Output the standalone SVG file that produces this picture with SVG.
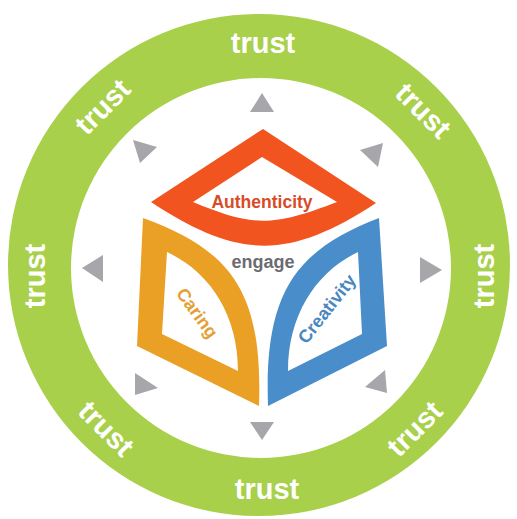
<svg xmlns="http://www.w3.org/2000/svg" width="517" height="519" viewBox="0 0 517 519">
<style>
.tri{fill:#a6a6ab}
.trust{font-family:"Liberation Sans",Arial,sans-serif;font-weight:bold;font-size:29px;fill:#fff;text-anchor:middle}
.lbl{font-family:"Liberation Sans",Arial,sans-serif;font-weight:bold;text-anchor:middle}
</style>
<rect width="517" height="519" fill="#fff"/>
<g id="ring">
<circle cx="259" cy="265" r="251" fill="#a8d04b"/>
<circle cx="261" cy="268" r="190" fill="#fff"/>
</g>
<g id="trust-labels">
<text class="trust" transform="translate(263,45)" y="8">trust</text>
<text class="trust" transform="translate(422,112) rotate(45)" y="8">trust</text>
<text class="trust" transform="translate(486,276) rotate(-90)" y="8">trust</text>
<text class="trust" transform="translate(416,430) rotate(-45)" y="8">trust</text>
<text class="trust" transform="translate(267,491)" y="8">trust</text>
<text class="trust" transform="translate(105,430) rotate(45)" y="8">trust</text>
<text class="trust" transform="translate(37,276) rotate(-90)" y="8">trust</text>
<text class="trust" transform="translate(104,108) rotate(-45)" y="8">trust</text>
</g>
<g id="connectors">
<polygon class="tri" points="262,93 250,112 274,112"/>
<polygon class="tri" points="262,440 250,422 274,422"/>
<polygon class="tri" points="82,268 103,255 103,282"/>
<polygon class="tri" points="442,270 420,257 420,283"/>
<polygon class="tri" points="133,140 157,147 140,163"/>
<polygon class="tri" points="383,143 360,150 378,167"/>
<polygon class="tri" points="135,395 135,373 158,388"/>
<polygon class="tri" points="387,393 365,387 385,370"/>
</g>
<g id="authenticity">
<path fill="#f25420" fill-rule="evenodd" d="M263,129 L376,203 C289,260 239,260 151,202 Z M262,157 L337,202 C272,227 253,227 193,202 Z"/>
<text class="lbl" x="262" y="208" font-size="17.5" fill="#d84b28">Authenticity</text>
</g>
<g id="caring">
<path fill="#e9a024" fill-rule="evenodd" d="M143,218 L137,346 L259,406 C263,290 230,250 143,218 Z M167,252 L162,334 L238,371 C238,315 210,272 167,252 Z"/>
<text class="lbl" transform="translate(197,313) rotate(54)" y="6" font-size="18" fill="#e3a035">Caring</text>
</g>
<g id="creativity">
<path fill="#4a8dcb" fill-rule="evenodd" d="M379,218 L387,346 L268,406 C264,290 297,250 379,218 Z M358,252 L362,334 L288,371 C288,315 316,272 358,252 Z"/>
<text class="lbl" transform="translate(327,309) rotate(-52)" y="6" font-size="18" fill="#4a86c0">Creativity</text>
</g>
<g id="engage">
<text class="lbl" x="263" y="268" font-size="18" fill="#6b6b70">engage</text>
</g>
</svg>
